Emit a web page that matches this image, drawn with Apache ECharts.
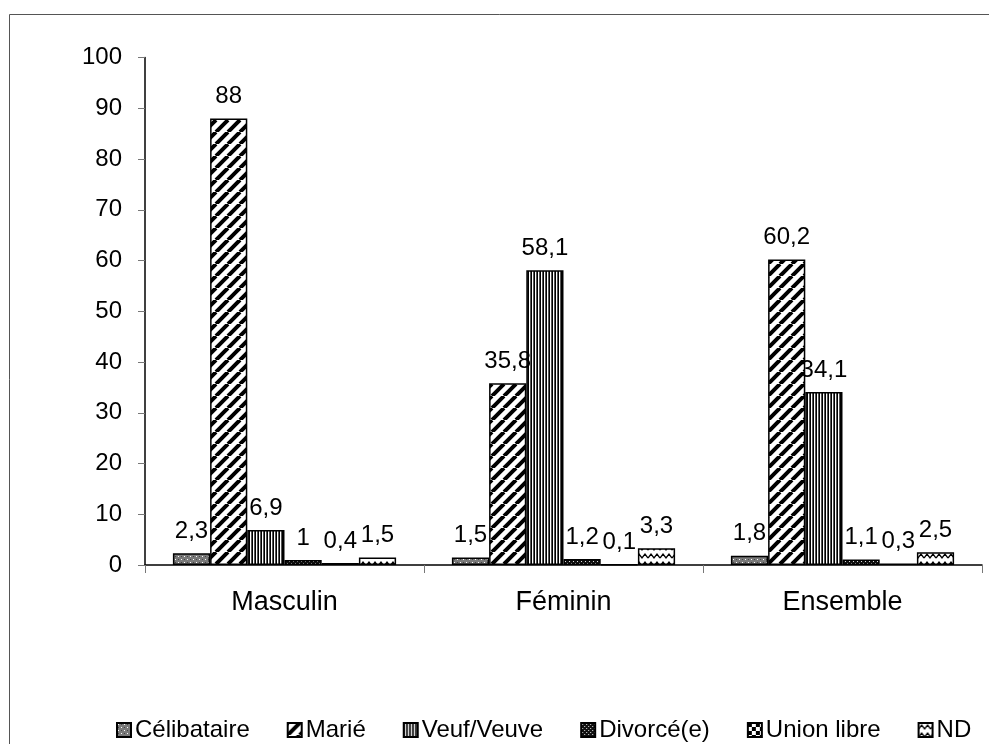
<!DOCTYPE html>
<html><head><meta charset="utf-8">
<script src="https://cdn.jsdelivr.net/npm/echarts@6/dist/echarts.min.js"></script>
<style>html,body{margin:0;padding:0;background:#fff}#c{width:989px;height:744px}</style>
</head><body><div id="c"></div>
<script>
var categories = ['Masculin', 'Féminin', 'Ensemble'];
var seriesNames = ['Célibataire', 'Marié', 'Veuf/Veuve', 'Divorcé(e)', 'Union libre', 'ND'];
var celibataire = [2.3, 1.5, 1.8];
var marie = [88, 35.8, 60.2];
var veuf = [6.9, 58.1, 34.1];
var divorce = [1, 1.2, 1.1];
var unionLibre = [0.4, 0.1, 0.3];
var nd = [1.5, 3.3, 2.5];
var yTicks = [0, 10, 20, 30, 40, 50, 60, 70, 80, 90, 100];

function mk(w, h, draw) {
  var c = document.createElement('canvas'); c.width = w; c.height = h;
  var g = c.getContext('2d'); draw(g, w, h);
  return { image: c, repeat: 'repeat' };
}
var patterns = [
  mk(6, 6, function (g) { g.fillStyle = '#7a7a7a'; g.fillRect(0, 0, 6, 6); g.fillStyle = '#fff'; g.fillRect(1, 1, 1, 1); g.fillRect(4, 4, 1, 1); g.fillStyle = '#444'; g.fillRect(4, 1, 1, 1); g.fillRect(1, 4, 1, 1); }),
  mk(12, 12, function (g) { g.fillStyle = '#fff'; g.fillRect(0, 0, 12, 12); g.strokeStyle = '#000'; g.lineWidth = 4; g.beginPath(); for (var k = -12; k <= 24; k += 12) { g.moveTo(k, 12); g.lineTo(k + 12, 0); } g.stroke(); }),
  mk(3, 1, function (g) { g.fillStyle = '#fff'; g.fillRect(0, 0, 3, 1); g.fillStyle = '#000'; g.fillRect(0, 0, 1, 1); g.fillStyle = '#555'; g.fillRect(2, 0, 1, 1); }),
  mk(4, 4, function (g) { g.fillStyle = '#111'; g.fillRect(0, 0, 4, 4); g.fillStyle = '#ddd'; g.fillRect(1, 1, 1, 1); g.fillRect(3, 3, 1, 1); }),
  mk(8, 8, function (g) { g.fillStyle = '#fff'; g.fillRect(0, 0, 8, 8); g.fillStyle = '#000'; g.fillRect(0, 0, 4, 4); g.fillRect(4, 4, 4, 4); }),
  mk(12, 8, function (g) { g.fillStyle = '#fff'; g.fillRect(0, 0, 12, 8); g.strokeStyle = '#000'; g.lineWidth = 1.3; g.beginPath(); g.moveTo(0, 6); g.lineTo(3, 2); g.lineTo(6, 6); g.lineTo(9, 2); g.lineTo(12, 6); g.stroke(); })
];
var dataSets = [celibataire, marie, veuf, divorce, unionLibre, nd];

var chart = echarts.init(document.getElementById('c'), null, { renderer: 'canvas' });
var FONT = 'Liberation Sans, Arial, sans-serif';
chart.setOption({
  animation: false,
  backgroundColor: '#fff',
  graphic: [{ type: 'rect', left: 7, top: 12, shape: { width: 1100, height: 900 }, style: { fill: 'none', stroke: '#555', lineWidth: 1 }, silent: true, z: -1 }],
  grid: { left: 145, right: 7, top: 57.5, bottom: 179 },
  legend: {
    bottom: 2, left: 116, itemWidth: 14, itemHeight: 14, itemGap: 37, padding: 0,
    icon: 'rect',
    textStyle: { fontFamily: FONT, fontSize: 24, color: '#000', padding: [0, 0, 0, -1] },
    data: seriesNames
  },
  xAxis: {
    type: 'category', data: categories,
    axisLine: { lineStyle: { color: '#000', width: 1.5 } },
    axisTick: { show: true, length: 8, lineStyle: { color: '#777' } },
    axisLabel: { fontFamily: FONT, fontSize: 27, color: '#000', margin: 24 }
  },
  yAxis: {
    type: 'value', min: 0, max: 100, interval: 10,
    axisLine: { show: true, lineStyle: { color: '#000', width: 1.5 } },
    axisTick: { show: true, length: 7, lineStyle: { color: '#777' } },
    splitLine: { show: false },
    axisLabel: { fontFamily: FONT, fontSize: 24, color: '#000', margin: 23 }
  },
  series: seriesNames.map(function (n, i) {
    return {
      name: n, type: 'bar', data: dataSets[i],
      barGap: '0%', barCategoryGap: '20%',
      itemStyle: { color: patterns[i], borderColor: '#000', borderWidth: 1.5 },
      label: {
        show: true, position: 'top', distance: 10,
        fontFamily: FONT, fontSize: 24, color: '#000',
        formatter: function (p) { return String(p.value).replace('.', ','); }
      }
    };
  })
});
</script></body></html>
